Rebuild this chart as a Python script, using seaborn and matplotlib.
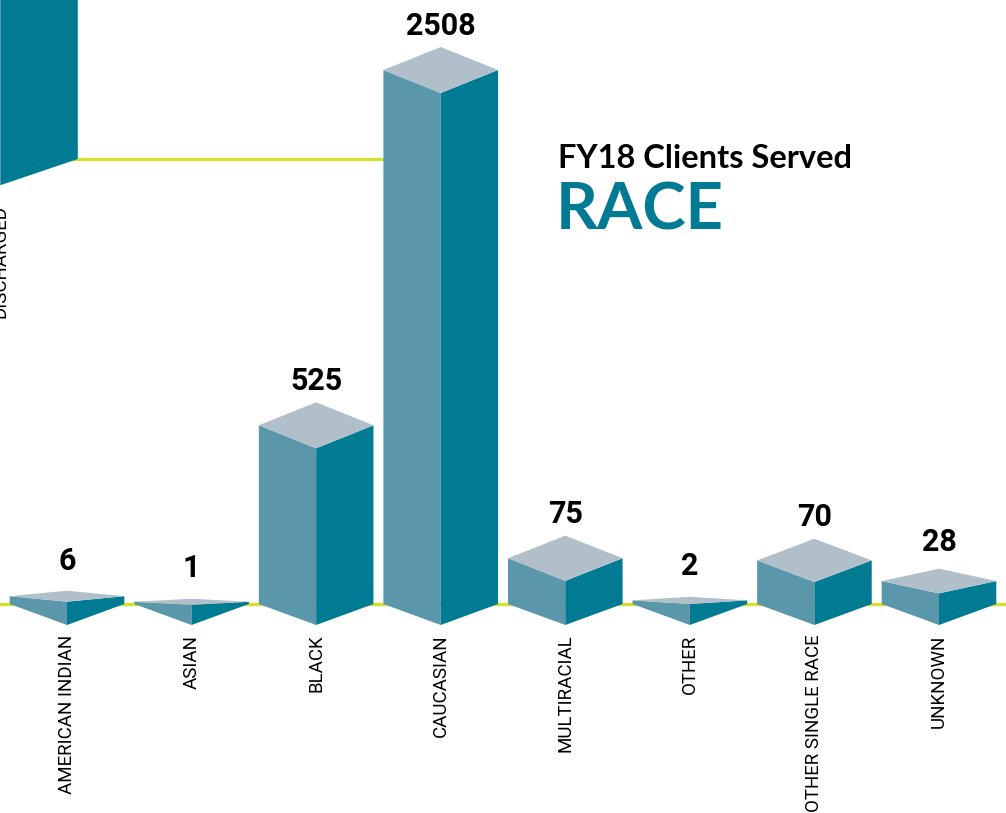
import numpy as np
import pandas as pd
import seaborn as sns
import matplotlib.pyplot as plt
from matplotlib.patches import Polygon

# data
races = ["AMERICAN INDIAN", "ASIAN", "BLACK", "CAUCASIAN", "MULTIRACIAL",
         "OTHER", "OTHER SINGLE RACE", "UNKNOWN"]
clients = [6, 1, 525, 2508, 75, 2, 70, 28]

# cut-off bar of the neighbouring panel (its top is off the page)
prev_labels = ["DISCHARGED"]
prev_values = [1200]

# colours
LEFT = "#5b97aa"
RIGHT = "#007b93"
TOP = "#b0bfc9"
YELLOW = "#d6de2f"

sns.set_theme(style="white")
plt.rcParams['font.family'] = ['Roboto', 'DejaVu Sans']

W, H = 1006, 813
fig = plt.figure(figsize=(W / 100, H / 100), dpi=100)

# the graphic is not linear, a power scale gets close to it
def fwd(y):
    return np.sign(y) * np.abs(y) ** 0.7

def inv(t):
    return np.sign(t) * np.abs(t) ** (1 / 0.7)

px_per_t = 534 / fwd(max(clients))


def prism(ax, depth, top_depth_max):
    to_fig = ax.transData + fig.transFigure.inverted()
    out = []
    for p in ax.patches:
        xl = p.get_x()
        xr = xl + p.get_width()
        xc = (xl + xr) / 2
        v = p.get_height()
        fxl, fb = to_fig.transform((xl, 0))
        fxr, _ = to_fig.transform((xr, 0))
        fxc, ft = to_fig.transform((xc, v))
        h_px = (ft - fb) * H
        hd_px = min(top_depth_max, 0.45 * h_px + 2)
        d = depth / H
        hd = hd_px / H
        left = [(fxl, fb), (fxc, fb - d), (fxc, ft - hd), (fxl, ft)]
        right = [(fxc, fb - d), (fxr, fb), (fxr, ft), (fxc, ft - hd)]
        top = [(fxl, ft), (fxc, ft - hd), (fxr, ft), (fxc, ft + hd)]
        for pts, c in [(left, LEFT), (right, RIGHT), (top, TOP)]:
            ax.add_patch(Polygon(pts, closed=True, facecolor=c, edgecolor='none',
                                 transform=fig.transFigure, clip_on=False, zorder=3))
        p.set_visible(False)
        out.append((xc, v, hd_px))
    return out


def clean(ax, pad):
    ax.set_xlabel("")
    ax.set_ylabel("")
    ax.set_yticks([])
    sns.despine(ax=ax, left=True, bottom=True)
    ax.tick_params(axis='x', length=0, pad=pad, labelsize=13.5, labelrotation=90,
                   labelcolor='black')


# neighbouring panel (top left)
ax0 = fig.add_axes([0, 1 - 159 / H, 400 / W, 159 / H])
prev = pd.DataFrame({"label": prev_labels, "value": prev_values})
sns.barplot(data=prev, x="label", y="value", ax=ax0, width=0.8, errorbar=None)
ax0.set_yscale('function', functions=(fwd, inv))
ax0.set_ylim(0, inv(159 / px_per_t))
ax0.set_xlim(-1 / 192, 399 / 192)
ax0.axhline(0, color=YELLOW, lw=2.4, clip_on=False, zorder=1)
ax0.patch.set_alpha(0)
clean(ax0, 33)
prism(ax0, 26, 26)

# main panel
df = pd.DataFrame({"race": races, "clients": clients})
ax = fig.add_axes([0, 209 / H, 1, 604 / H])
ax.set_zorder(2)
ax.patch.set_alpha(0)
sns.barplot(data=df, x="race", y="clients", ax=ax, width=0.92, errorbar=None)
ax.set_yscale('function', functions=(fwd, inv))
ax.set_ylim(0, inv(604 / px_per_t))
edge = 67 / ((W - 2 * 67) / 7)
ax.set_xlim(-edge, len(races) - 1 + edge)
ax.axhline(0, color=YELLOW, lw=2.4, clip_on=False, zorder=1)
clean(ax, 22)

for xc, v, hd_px in prism(ax, 21, 23):
    ax.annotate(f"{v:.0f}", xy=(xc, v), xytext=(0, (23.5 + hd_px / 2) * 0.72),
                textcoords='offset points', ha='center', va='baseline',
                fontsize=22, fontweight='bold', color='black', zorder=4)

# title
fig.text(558 / W, 1 - 168 / H, "FY18 Clients Served", fontsize=23.5, fontweight='bold',
         family=['Lato', 'DejaVu Sans'], color='black', va='baseline')
fig.text(556 / W, 1 - 230 / H, "RACE", fontsize=47, fontweight='bold',
         family=['Lato', 'DejaVu Sans'], color=RIGHT, va='baseline')

fig.savefig("out.png", dpi=100)
